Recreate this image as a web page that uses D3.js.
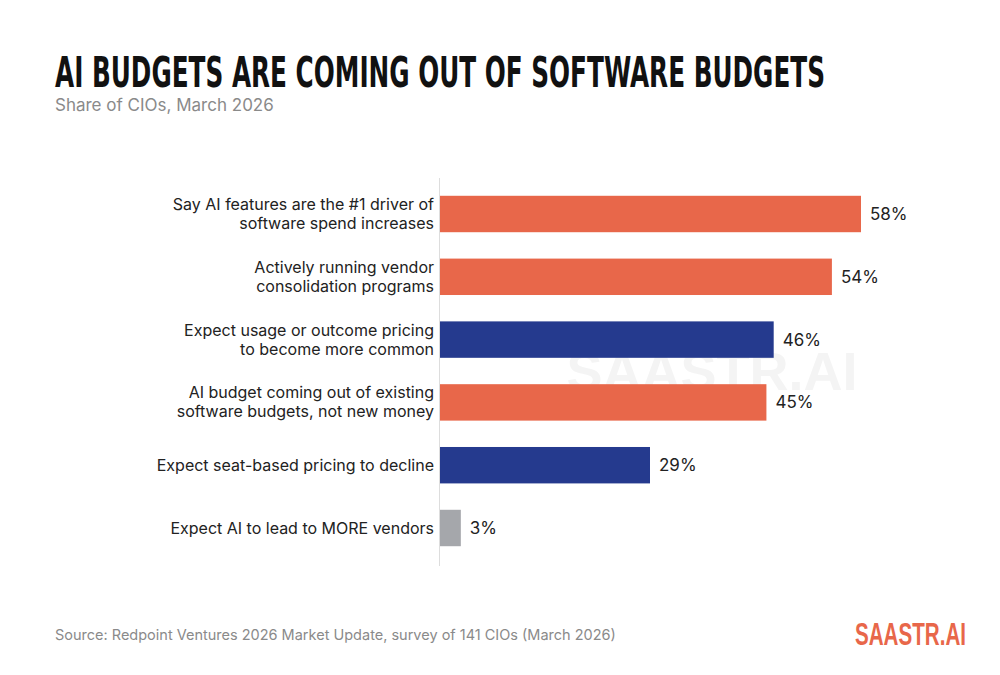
<!DOCTYPE html>
<html><head><meta charset="utf-8">
<script src="https://cdn.jsdelivr.net/npm/d3@7"></script>
<style>body{margin:0;background:#fff}</style>
</head><body>
<svg id="chart" width="1000" height="675"></svg>
<script>
const labels = [
  ["Say AI features are the #1 driver of", "software spend increases"],
  ["Actively running vendor", "consolidation programs"],
  ["Expect usage or outcome pricing", "to become more common"],
  ["AI budget coming out of existing", "software budgets, not new money"],
  ["Expect seat-based pricing to decline"],
  ["Expect AI to lead to MORE vendors"]
];
const values = [58, 54, 46, 45, 29, 3];
const colors = ["#E8674A", "#E8674A", "#253A8E", "#E8674A", "#253A8E", "#A5A7AB"];

const svg = d3.select("#chart");
const font = "Inter, 'Noto Sans', sans-serif";

svg.append("text").attr("x", 55).attr("y", 87)
  .attr("font-family", "'Liberation Sans Narrow','DejaVu Sans Condensed',sans-serif")
  .attr("font-weight", 700).attr("font-size", 42).attr("fill", "#111")
  .attr("textLength", 770).attr("lengthAdjust", "spacingAndGlyphs")
  .text("AI BUDGETS ARE COMING OUT OF SOFTWARE BUDGETS");
svg.append("text").attr("x", 55).attr("y", 111).attr("font-family", font)
  .attr("font-size", 17).attr("fill", "#8a8a8a").text("Share of CIOs, March 2026");

// watermark
svg.append("text").attr("x", 712).attr("y", 390).attr("text-anchor", "middle")
  .attr("font-family", "'Liberation Sans Narrow',sans-serif").attr("font-weight", 700)
  .attr("font-size", 54).attr("fill", "#f4f4f4").text("SAASTR.AI");

const x = d3.scaleLinear().domain([0, 58]).range([439, 861]);
const y = d3.scaleBand().domain(d3.range(values.length)).range([182.6, 559.4])
  .paddingInner(0.42).paddingOuter(0.21);

svg.selectAll("rect.bar").data(values).join("rect")
  .attr("x", x(0)).attr("y", (d, i) => y(i)).attr("height", y.bandwidth())
  .attr("width", d => x(d) - x(0)).attr("fill", (d, i) => colors[i]);

svg.append("line").attr("x1", 439.5).attr("x2", 439.5).attr("y1", 178).attr("y2", 566)
  .attr("stroke", "#ddd");

svg.selectAll("text.val").data(values).join("text")
  .attr("x", d => x(d) + 9).attr("y", (d, i) => y(i) + y.bandwidth() / 2 + 6)
  .attr("font-family", font).attr("font-size", 17).attr("fill", "#222").text(d => d + "%");

labels.forEach((l, i) => {
  const cy = y(i) + y.bandwidth() / 2;
  const t = svg.append("text").attr("text-anchor", "end").attr("font-family", font)
    .attr("font-size", 16).attr("fill", "#222");
  l.forEach((line, j) => {
    t.append("tspan").attr("x", 434).attr("y", cy + 5.5 + (j - (l.length - 1) / 2) * 19).text(line);
  });
});

svg.append("text").attr("x", 55).attr("y", 640).attr("font-family", font)
  .attr("font-size", 14.5).attr("fill", "#8a8a8a")
  .text("Source: Redpoint Ventures 2026 Market Update, survey of 141 CIOs (March 2026)");
svg.append("text").attr("x", 966).attr("y", 645).attr("text-anchor", "end")
  .attr("font-family", "'Liberation Sans Narrow',sans-serif").attr("font-weight", 700)
  .attr("font-size", 32).attr("fill", "#E8674A")
  .attr("textLength", 111).attr("lengthAdjust", "spacingAndGlyphs").text("SAASTR.AI");
</script>
</body></html>
